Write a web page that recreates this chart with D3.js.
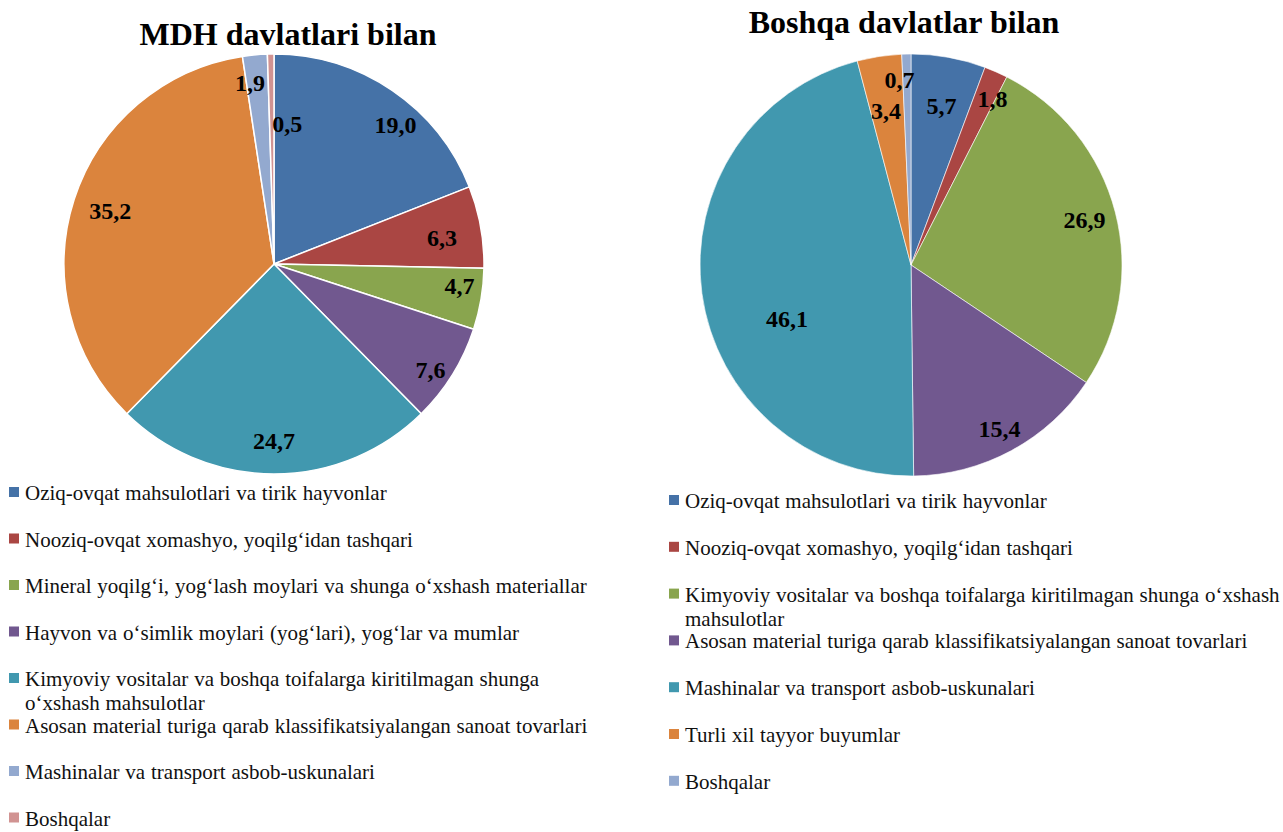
<!DOCTYPE html>
<html>
<head>
<meta charset="utf-8">
<script src="https://cdn.jsdelivr.net/npm/d3@7"></script>
<style>
  body { margin: 0; background: #fff; }
  text { font-family: "Liberation Serif", "Times New Roman", serif; }
</style>
</head>
<body>
<svg width="1283" height="832"></svg>
<script>
// data
var colors = ["#4572A7", "#AA4643", "#89A54E", "#71588F", "#4198AF", "#DB843D", "#93A9CF", "#D19392"];

var leftTitle = "MDH davlatlari bilan";
var leftCategories = [
  "Oziq-ovqat mahsulotlari va tirik hayvonlar",
  "Nooziq-ovqat xomashyo, yoqilg‘idan tashqari",
  "Mineral yoqilg‘i, yog‘lash moylari va shunga o‘xshash materiallar",
  "Hayvon va o‘simlik moylari (yog‘lari), yog‘lar va mumlar",
  "Kimyoviy vositalar va boshqa toifalarga kiritilmagan shunga\no‘xshash mahsulotlar",
  "Asosan material turiga qarab klassifikatsiyalangan sanoat tovarlari",
  "Mashinalar va transport asbob-uskunalari",
  "Boshqalar"
];
var leftValues = [19.0, 6.3, 4.7, 7.6, 24.7, 35.2, 1.9, 0.5];

var rightTitle = "Boshqa davlatlar bilan";
var rightCategories = [
  "Oziq-ovqat mahsulotlari va tirik hayvonlar",
  "Nooziq-ovqat xomashyo, yoqilg‘idan tashqari",
  "Kimyoviy vositalar va boshqa toifalarga kiritilmagan shunga o‘xshash\nmahsulotlar",
  "Asosan material turiga qarab klassifikatsiyalangan sanoat tovarlari",
  "Mashinalar va transport asbob-uskunalari",
  "Turli xil tayyor buyumlar",
  "Boshqalar"
];
var rightValues = [5.7, 1.8, 26.9, 15.4, 46.1, 3.4, 0.7];

// where each label sits, as fraction of radius (Excel best fit)
var leftLabelR = [0.88, 0.81, 0.89, 0.9, 0.84, 0.82, 0.87, 0.67];
var rightLabelR = [0.77, 0.88, 0.85, 0.88, 0.64, 0.74, 0.88];

var svg = d3.select("svg");
var fmt = function (v) { return d3.format(".1f")(v).replace(".", ","); };

function drawPie(opt) {
    var g = svg.append("g").attr("transform", "translate(" + opt.cx + "," + opt.cy + ")");

    var pie = d3.pie().sort(null).value(function (d) { return d; });
    var arc = d3.arc().innerRadius(0).outerRadius(opt.r);
    var arcs = pie(opt.values);

    g.selectAll("path")
        .data(arcs)
        .enter().append("path")
        .attr("d", arc)
        .attr("fill", function (d, i) { return colors[i]; })
        .attr("stroke", "#fff")
        .attr("stroke-width", opt.stroke);

    g.selectAll("text.lbl")
        .data(arcs)
        .enter().append("text")
        .attr("class", "lbl")
        .attr("transform", function (d, i) {
            var a = (d.startAngle + d.endAngle) / 2 + (opt.labelRot[i] || 0);
            var rr = opt.r * opt.labelR[i];
            return "translate(" + (Math.sin(a) * rr) + "," + (-Math.cos(a) * rr) + ")";
        })
        .attr("text-anchor", "middle")
        .attr("dy", "0.35em")
        .style("font-size", "24px")
        .style("font-weight", "bold")
        .text(function (d) { return fmt(d.data); });

    svg.append("text")
        .attr("x", opt.titleX)
        .attr("y", opt.titleY)
        .attr("text-anchor", "middle")
        .style("font-size", "32px")
        .style("font-weight", "bold")
        .text(opt.title);

    var lg = svg.append("g").attr("transform", "translate(" + opt.legX + "," + opt.legY + ")");
    var y = 0;
    opt.categories.forEach(function (c, i) {
        var lines = c.split("\n");
        lg.append("rect")
            .attr("x", 0).attr("y", y - 13)
            .attr("width", 10).attr("height", 10)
            .attr("fill", colors[i]);
        var t = lg.append("text")
            .attr("x", 16).attr("y", y)
            .style("font-size", "21px")
            .style("word-spacing", "0.6px")
            .style("fill", "#111");
        lines.forEach(function (l, j) {
            t.append("tspan").attr("x", 16).attr("y", y + j * 24).text(l);
        });
        y += opt.legStep;
    });
}

drawPie({
    cx: 274, cy: 264, r: 210, stroke: 1.5,
    values: leftValues, categories: leftCategories, title: leftTitle,
    labelR: leftLabelR, labelRot: [0.12, 0.02, -0.05, 0.04, 0, 0, -0.04, 0.11],
    titleX: 288, titleY: 45,
    legX: 9, legY: 500, legStep: 46.5
});

drawPie({
    cx: 911, cy: 265, r: 211, stroke: 0.6,
    values: rightValues, categories: rightCategories, title: rightTitle,
    labelR: rightLabelR, labelRot: [0.01, 0.04, 0, 0, -0.27, -0.01, -0.04],
    titleX: 904, titleY: 33,
    legX: 669, legY: 508, legStep: 46.8
});
</script>
</body>
</html>
